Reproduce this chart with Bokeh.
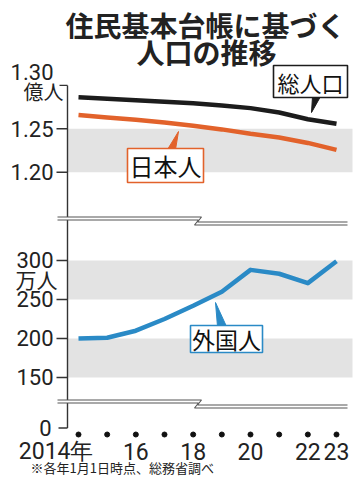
from bokeh.plotting import figure
from bokeh.models import Range1d
from bokeh.core.properties import value
from bokeh.embed import file_html
from bokeh.resources import INLINE

# ---------------- data ----------------
years = [2014, 2015, 2016, 2017, 2018, 2019, 2020, 2021, 2022, 2023]
total_oku = [1.2862, 1.2845, 1.2830, 1.2812, 1.2793, 1.2768, 1.2738, 1.2688, 1.2610, 1.2557]
japanese_oku = [1.2658, 1.2631, 1.2604, 1.2573, 1.2536, 1.2493, 1.2442, 1.2399, 1.2337, 1.2257]
foreign_man = [200, 201, 210, 225, 242, 260, 288, 283, 271, 299]

upper_ticks = [1.30, 1.25, 1.20]
upper_tick_labels = ["1.30", "1.25", "1.20"]
lower_ticks = [300, 250, 200, 150]
lower_tick_labels = ["300", "250", "200", "150"]
upper_bands = [(1.20, 1.25)]
lower_bands = [(250, 300), (150, 200)]
x_label_years = [2016, 2018, 2020, 2022, 2023]
x_labels = ["16", "18", "20", "22", "23"]

title_lines = ["住民基本台帳に基づく", "人口の推移"]
note = "※各年1月1日時点、総務省調べ"

BLACK = "#1c1c1c"
ORANGE = "#e2622b"
BLUE = "#2a8ac6"
BAND = "#e3e3e3"
TXT = "#222222"
JP = value("Noto Sans CJK JP")
NUM = value("Roboto")

W, H = 360, 478

p = figure(width=W, height=H, output_backend="svg", toolbar_location=None,
           x_axis_location=None, y_axis_location=None, min_border=0,
           x_range=Range1d(2011.2791, 2023.8372),
           y_range=Range1d(20.51, 633.33))
p.extra_y_ranges = {"upper": Range1d(0.8471, 1.3978), "px": Range1d(H, 0)}
p.extra_x_ranges = {"px": Range1d(0, W)}
p.outline_line_color = None
p.background_fill_color = "white"
p.border_fill_color = "white"
p.grid.visible = False

# ---- bands ----
for b, t in upper_bands:
    p.quad(left=67, right=352, bottom=b, top=t, fill_color=BAND, line_color=None,
           x_range_name="px", y_range_name="upper")
for b, t in lower_bands:
    p.quad(left=67, right=352, bottom=b, top=t, fill_color=BAND, line_color=None,
           x_range_name="px")

# ---- axis line & ticks ----
p.segment(x0=[67], y0=[84.9], x1=[67], y1=[427.5], line_color="#333333", line_width=1.4,
          x_range_name="px", y_range_name="px")
p.segment(x0=[56 if v != 1.30 else 59 for v in upper_ticks], y0=upper_ticks,
          x1=[67] * len(upper_ticks), y1=upper_ticks, line_color="#333333", line_width=1.4,
          x_range_name="px", y_range_name="upper")
p.segment(x0=[56] * len(lower_ticks), y0=lower_ticks, x1=[67] * len(lower_ticks), y1=lower_ticks,
          line_color="#333333", line_width=1.4, x_range_name="px")
p.segment(x0=[58], y0=[427.5], x1=[67], y1=[427.5], line_color="#333333", line_width=1.4,
          x_range_name="px", y_range_name="px")

# ---- data lines ----
p.line(years, total_oku, line_color=BLACK, line_width=4.5, line_join="round", y_range_name="upper")
p.line(years, japanese_oku, line_color=ORANGE, line_width=4.5, line_join="round", y_range_name="upper")
p.line(years, foreign_man, line_color=BLUE, line_width=4.5, line_join="round")

# ---- break marks ----
for y0 in (216.5, 399.5):
    p.patch(x=[57, 201, 197, 347, 347, 194, 198, 57],
            y=[y0, y0, y0 + 5, y0 + 5, y0 + 8, y0 + 8, y0 + 3, y0 + 3],
            fill_color="white", line_color=None, x_range_name="px", y_range_name="px")
    p.line(x=[57, 201, 197, 347], y=[y0, y0, y0 + 5, y0 + 5], line_color="#555555",
           line_width=1.1, x_range_name="px", y_range_name="px")
    p.line(x=[57, 198, 194, 347], y=[y0 + 3, y0 + 3, y0 + 8, y0 + 8], line_color="#555555",
           line_width=1.1, x_range_name="px", y_range_name="px")

# ---- x-axis dots and labels ----
p.scatter(x=years, y=[434] * len(years), size=5, color="#111111", y_range_name="px")
p.text(x=[2014], y=[451], text=["2014年"], text_font=NUM, text_font_size="23px",
       text_color=TXT, text_align="right", text_baseline="middle", x_offset=15,
       y_range_name="px")
p.text(x=x_label_years, y=[451] * len(x_label_years), text=x_labels, text_font=NUM,
       text_font_size="23px", text_color=TXT, text_align="center", text_baseline="middle",
       y_range_name="px")

# ---- y tick labels ----
p.text(x=[53] * 2, y=upper_ticks[1:], text=upper_tick_labels[1:], text_font=NUM,
       text_font_size="22px", text_color=TXT, text_align="right", text_baseline="middle",
       x_range_name="px", y_range_name="upper")
p.text(x=[53], y=upper_ticks[:1], text=upper_tick_labels[:1], text_font=NUM,
       text_font_size="22px", text_color=TXT, text_align="right", text_baseline="middle",
       y_offset=-13, x_range_name="px", y_range_name="upper")
p.text(x=[63], y=[91], text=["億人"], text_font=JP, text_font_size="20px",
       text_color=TXT, text_align="right", text_baseline="middle",
       x_range_name="px", y_range_name="px")
p.text(x=[53] * len(lower_ticks), y=lower_ticks, text=lower_tick_labels, text_font=NUM,
       text_font_size="22px", text_color=TXT, text_align="right", text_baseline="middle",
       x_range_name="px")
p.text(x=[57], y=[278], text=["万人"], text_font=JP, text_font_size="21px",
       text_color=TXT, text_align="right", text_baseline="middle",
       x_range_name="px", y_range_name="px")
p.text(x=[51], y=[427], text=["0"], text_font=NUM, text_font_size="22px",
       text_color=TXT, text_align="right", text_baseline="middle",
       x_range_name="px", y_range_name="px")

# ---- callouts ----
callouts = [
    ("総人口", BLACK, (273, 347, 65, 97), [(312, 96), (320, 96), (311, 112)], 22),
    ("日本人", ORANGE, (127, 203, 148, 182), [(167, 149), (175, 149), (178, 131)], 24),
    ("外国人", BLUE, (190, 262, 325, 352), [(217, 326), (226, 326), (215, 302)], 23),
]
for label, col, (l, r, t, b), tri, fs in callouts:
    p.patch(x=[q[0] for q in tri], y=[q[1] for q in tri], fill_color=col, line_color=col,
            line_width=1, x_range_name="px", y_range_name="px")
    p.quad(left=l, right=r, top=t, bottom=b, fill_color="white", line_color=col,
           line_width=1.6, x_range_name="px", y_range_name="px")
    p.text(x=[(l + r) / 2], y=[(t + b) / 2], text=[label], text_font=JP,
           text_font_size=f"{fs}px", text_color="#111111", text_align="center",
           text_baseline="middle", x_range_name="px", y_range_name="px")

# ---- title ----
p.text(x=[205, 206], y=[24, 51], text=title_lines, text_font=JP, text_font_size="28px",
       text_font_style="bold", text_color=TXT, text_align="center", text_baseline="middle",
       x_range_name="px", y_range_name="px")

# ---- note ----
p.text(x=[30], y=[476], text=[note], text_font=JP, text_font_size="13px", text_color=TXT,
       text_align="left", text_baseline="bottom", x_range_name="px", y_range_name="px")

open("out.html", "w").write(file_html(p, INLINE))
